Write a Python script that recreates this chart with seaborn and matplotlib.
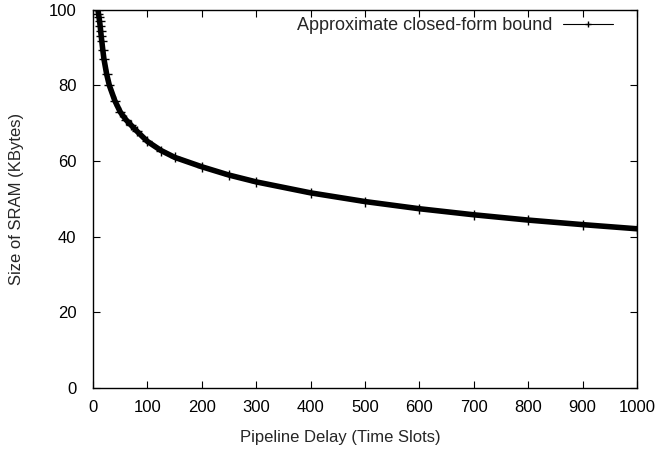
import numpy as np
import pandas as pd
import matplotlib
matplotlib.use("Agg")
import matplotlib.pyplot as plt
import seaborn as sns
from matplotlib.lines import Line2D

# valeurs (delai -> taille SRAM en KBytes)
delay = [8, 9, 10, 11, 12, 13, 14, 15, 16, 18, 20, 25, 30, 40, 50, 60, 70, 80,
         100, 125, 150, 200, 250, 300, 400, 500, 600, 700, 800, 900, 1000]
sram = [101.5, 100.0, 99.0, 98.0, 97.0, 95.8, 94.4, 93.0, 91.8, 89.3, 87.0,
        83.0, 80.0, 76.0, 73.0, 71.0, 69.5, 68.0, 65.2, 62.8, 61.0, 58.5,
        56.3, 54.5, 51.6, 49.3, 47.4, 45.8, 44.4, 43.2, 42.1]

df = pd.DataFrame({"delay": delay, "sram": sram})

sns.set_style("ticks")
plt.rcParams["font.family"] = ["Liberation Sans", "DejaVu Sans"]

fig = plt.figure(figsize=(6.6, 4.49), dpi=100)
ax = fig.add_axes([0.141, 0.136, 0.824, 0.842])

sns.lineplot(data=df, x="delay", y="sram", color="black", linewidth=4,
             marker="+", markersize=7, markeredgewidth=1,
             markeredgecolor="black", ax=ax, legend=False)

ax.set_xlim(0, 1000)
ax.set_ylim(0, 100)
ax.set_xticks(np.arange(0, 1001, 100))
ax.set_yticks(np.arange(0, 101, 20))
ax.tick_params(direction="in", top=True, right=True, length=5, width=0.8,
               labelsize=12, colors="black")
ax.tick_params(axis="y", pad=12)
ax.tick_params(axis="x", pad=9)
for s in ax.spines.values():
    s.set_visible(True)
    s.set_linewidth(1.0)
    s.set_color("black")

ax.set_xlabel("Pipeline Delay (Time Slots)", fontsize=12)
ax.xaxis.set_label_coords(0.454, -0.112)
ax.set_ylabel("Size of SRAM (KBytes)", fontsize=12, labelpad=18)

handle = Line2D([], [], color="black", linewidth=0.8, marker="+", markersize=5)
ax.legend(handles=[handle], labels=["Approximate closed-form bound"],
          loc="upper right", frameon=False, markerfirst=False, fontsize=13,
          handlelength=2.8, handletextpad=0.6, borderaxespad=0.0,
          bbox_to_anchor=(0.97, 1.0))

fig.savefig("out.png", dpi=100)
plt.close(fig)
